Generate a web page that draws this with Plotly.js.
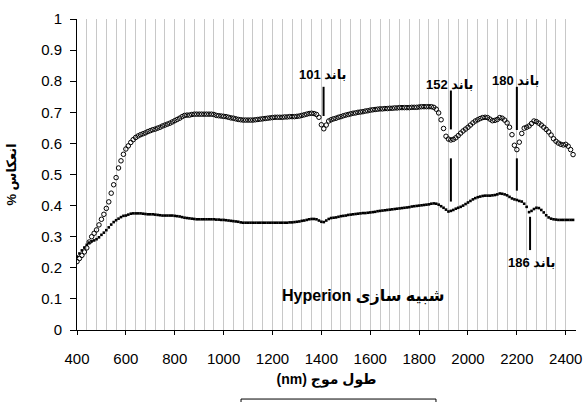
<!DOCTYPE html>
<html>
<head>
<meta charset="utf-8">
<script src="https://cdn.plot.ly/plotly-3.0.1.min.js"></script>
<style>html,body{margin:0;padding:0;background:#fff;}#chart{width:583px;height:402px;}</style>
</head>
<body>
<div id="chart"></div>
<script>
// Wavelength (nm)
var wavelength = [
400,410,420,430,440,450,460,470,480,490,
500,510,520,530,540,550,560,570,580,590,
600,610,620,630,640,650,660,670,680,690,
700,710,720,730,740,750,760,770,780,790,
800,810,820,830,840,850,860,870,880,890,
900,910,920,930,940,950,960,970,980,990,
1000,1010,1020,1030,1040,1050,1060,1070,1080,1090,
1100,1110,1120,1130,1140,1150,1160,1170,1180,1190,
1200,1210,1220,1230,1240,1250,1260,1270,1280,1290,
1300,1310,1320,1330,1340,1350,1360,1370,1380,1390,
1400,1410,1420,1430,1440,1450,1460,1470,1480,1490,
1500,1510,1520,1530,1540,1550,1560,1570,1580,1590,
1600,1610,1620,1630,1640,1650,1660,1670,1680,1690,
1700,1710,1720,1730,1740,1750,1760,1770,1780,1790,
1800,1810,1820,1830,1840,1850,1860,1870,1880,1890,
1900,1910,1920,1930,1940,1950,1960,1970,1980,1990,
2000,2010,2020,2030,2040,2050,2060,2070,2080,2090,
2100,2110,2120,2130,2140,2150,2160,2170,2180,2190,
2200,2210,2220,2230,2240,2250,2260,2270,2280,2290,
2300,2310,2320,2330,2340,2350,2360,2370,2380,2390,
2400,2410,2420,2430];

// Upper spectrum (open circles)
var reflectanceUpper = [
0.220,0.230,0.240,0.251,0.264,0.283,0.300,0.311,0.322,0.338,
0.356,0.372,0.391,0.412,0.440,0.467,0.490,0.521,0.544,0.565,
0.582,0.592,0.603,0.612,0.619,0.624,0.628,0.631,0.634,0.638,
0.641,0.644,0.646,0.649,0.652,0.656,0.659,0.662,0.665,0.669,
0.673,0.677,0.681,0.686,0.690,0.691,0.691,0.693,0.694,0.694,
0.694,0.694,0.694,0.694,0.694,0.694,0.693,0.690,0.689,0.688,
0.687,0.686,0.684,0.682,0.681,0.679,0.677,0.676,0.675,0.675,
0.675,0.675,0.675,0.676,0.677,0.678,0.679,0.680,0.681,0.682,
0.683,0.684,0.684,0.684,0.684,0.685,0.685,0.686,0.686,0.686,
0.687,0.688,0.690,0.692,0.694,0.696,0.697,0.696,0.693,0.684,
0.660,0.647,0.659,0.672,0.676,0.679,0.681,0.684,0.686,0.689,
0.691,0.693,0.695,0.697,0.698,0.700,0.701,0.702,0.704,0.705,
0.707,0.708,0.709,0.710,0.711,0.711,0.712,0.712,0.713,0.713,
0.714,0.714,0.715,0.715,0.715,0.715,0.715,0.716,0.716,0.716,
0.717,0.718,0.718,0.718,0.718,0.718,0.716,0.710,0.698,0.676,
0.648,0.623,0.614,0.611,0.613,0.618,0.625,0.633,0.640,0.646,
0.652,0.659,0.666,0.672,0.676,0.680,0.683,0.684,0.683,0.678,
0.673,0.674,0.677,0.683,0.681,0.675,0.666,0.652,0.628,0.594,
0.580,0.604,0.632,0.649,0.652,0.656,0.664,0.672,0.670,0.665,
0.659,0.652,0.645,0.637,0.627,0.615,0.607,0.601,0.597,0.595,
0.597,0.591,0.580,0.564];

// Lower spectrum (small filled dots)
var reflectanceLower = [
0.236,0.246,0.256,0.265,0.274,0.281,0.285,0.288,0.292,0.298,
0.306,0.313,0.321,0.330,0.339,0.347,0.353,0.358,0.363,0.367,
0.368,0.371,0.374,0.375,0.375,0.375,0.375,0.374,0.373,0.372,
0.372,0.372,0.371,0.370,0.369,0.368,0.368,0.368,0.368,0.368,
0.367,0.366,0.365,0.363,0.361,0.360,0.359,0.358,0.357,0.356,
0.356,0.356,0.356,0.356,0.356,0.356,0.356,0.355,0.355,0.354,
0.354,0.353,0.352,0.351,0.350,0.349,0.348,0.346,0.345,0.345,
0.345,0.345,0.345,0.345,0.345,0.345,0.345,0.345,0.345,0.345,
0.345,0.345,0.345,0.345,0.345,0.345,0.345,0.346,0.346,0.347,
0.348,0.349,0.351,0.352,0.354,0.356,0.357,0.357,0.356,0.352,
0.348,0.347,0.352,0.357,0.360,0.361,0.362,0.364,0.366,0.367,
0.368,0.370,0.371,0.372,0.373,0.374,0.375,0.376,0.376,0.377,
0.378,0.379,0.380,0.382,0.383,0.384,0.385,0.386,0.387,0.388,
0.389,0.390,0.391,0.392,0.393,0.394,0.395,0.397,0.398,0.399,
0.400,0.401,0.402,0.403,0.404,0.406,0.407,0.406,0.403,0.398,
0.393,0.387,0.381,0.383,0.386,0.390,0.393,0.396,0.400,0.405,
0.410,0.415,0.420,0.424,0.427,0.429,0.431,0.432,0.432,0.432,
0.433,0.434,0.436,0.439,0.438,0.436,0.433,0.428,0.423,0.420,
0.418,0.415,0.413,0.406,0.396,0.379,0.383,0.389,0.393,0.392,
0.386,0.378,0.369,0.362,0.358,0.356,0.355,0.354,0.354,0.354,
0.354,0.354,0.354,0.354];

// Band labels
var bandLabels = ['101 باند', '152 باند', '180 باند', '186 باند'];
var bandLabelX = [1403, 1925, 2193, 2259];
var bandLabelY = [0.823, 0.788, 0.802, 0.216];
// Band marker segments: x, y from, y to
var bandLineX  = [1409, 1930, 1930, 2200, 2200, 2254];
var bandLineY0 = [0.782, 0.770, 0.552, 0.782, 0.552, 0.364];
var bandLineY1 = [0.688, 0.645, 0.413, 0.643, 0.448, 0.257];

var chartNote = 'Hyperion شبیه سازی';
var noteX = 1571, noteY = 0.110;

var FONT = 'Liberation Sans, Arial, DejaVu Sans, sans-serif';

var traces = [
  {
    x: wavelength, y: reflectanceUpper, type: 'scatter', mode: 'markers',
    marker: {symbol: 'circle-open', size: 4.5, color: '#000', line: {width: 1, color: '#000'}},
    showlegend: false, hoverinfo: 'x+y'
  },
  {
    x: wavelength, y: reflectanceLower, type: 'scatter', mode: 'markers',
    marker: {symbol: 'square', size: 2.6, color: '#000', line: {width: 0}},
    showlegend: false, hoverinfo: 'x+y'
  }
];

var shapes = [];
for (var i = 0; i < bandLineX.length; i++) {
  shapes.push({type: 'line', xref: 'x', yref: 'y',
    x0: bandLineX[i], x1: bandLineX[i], y0: bandLineY0[i], y1: bandLineY1[i],
    line: {color: '#000', width: 2}});
}
// partially visible box below the axis title
shapes.push({type: 'rect', xref: 'paper', yref: 'paper',
  x0: 0.3287, x1: 0.7194, y0: -0.222, y1: -0.30,
  line: {color: '#000', width: 1}, fillcolor: '#fff'});

var annotations = [];
for (var j = 0; j < bandLabels.length; j++) {
  annotations.push({x: bandLabelX[j], y: bandLabelY[j], xref: 'x', yref: 'y',
    text: '<b>' + bandLabels[j] + '</b>', showarrow: false,
    xanchor: 'center', yanchor: 'middle',
    font: {family: FONT, size: 13, color: '#000'}});
}
annotations.push({x: noteX, y: noteY, xref: 'x', yref: 'y',
  text: '<b>' + chartNote + '</b>', showarrow: false,
  xanchor: 'center', yanchor: 'middle',
  font: {family: FONT, size: 16, color: '#000'}});

var layout = {
  width: 583, height: 402,
  margin: {l: 77, r: 7, t: 19, b: 72, pad: 0},
  paper_bgcolor: '#fff', plot_bgcolor: '#fff',
  font: {family: FONT, color: '#000', size: 15},
  showlegend: false,
  xaxis: {
    range: [400, 2442], tick0: 400, dtick: 200,
    ticks: 'outside', ticklen: 4, tickwidth: 1, tickcolor: '#000',
    ticklabelstandoff: 11,
    showline: true, linecolor: '#000', linewidth: 1,
    showgrid: true, gridcolor: '#c8c8c8', gridwidth: 1,
    minor: {tick0: 400, dtick: 40, showgrid: true, gridcolor: '#c8c8c8', gridwidth: 1, ticks: ''},
    zeroline: false,
    tickfont: {family: FONT, size: 15, color: '#000'},
    title: {text: '<b>(nm) طول موج</b>', font: {family: FONT, size: 14, color: '#000'}, standoff: 8}
  },
  yaxis: {
    range: [0, 1], tick0: 0, dtick: 0.1,
    ticks: 'outside', ticklen: 6, tickwidth: 1, tickcolor: '#000',
    ticklabelstandoff: 5,
    showline: true, linecolor: '#000', linewidth: 1,
    showgrid: false, zeroline: false,
    tickfont: {family: FONT, size: 15, color: '#000'},
    title: {text: '<b>% انعکاس</b>', font: {family: FONT, size: 13, color: '#000'}, standoff: 21}
  },
  shapes: shapes,
  annotations: annotations
};

Plotly.newPlot('chart', traces, layout, {staticPlot: true, displayModeBar: false});
</script>
</body>
</html>
